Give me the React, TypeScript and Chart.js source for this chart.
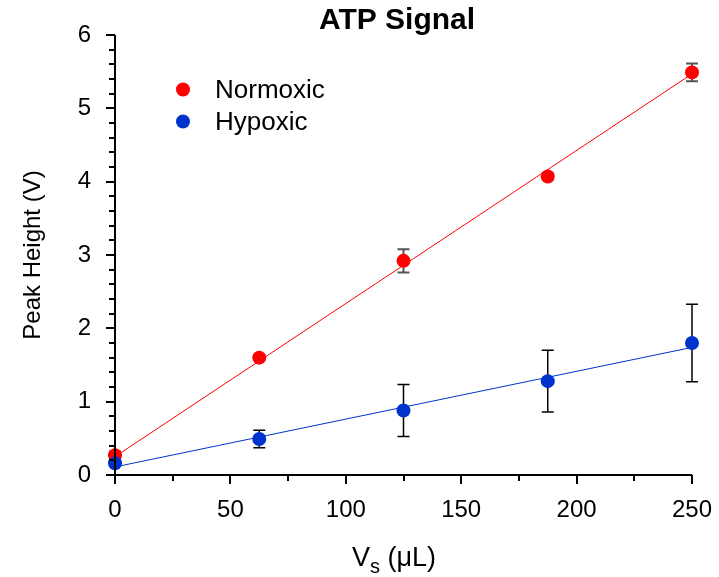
import React, { useEffect, useRef } from "react";
import { Chart, registerables } from "chart.js";

Chart.register(...registerables);

const xValues = [0, 62.5, 125, 187.5, 250];
const normoxic = [0.27, 1.6, 2.92, 4.07, 5.49];
const normoxicErr = [0.05, 0.03, 0.16, 0.04, 0.12];
const hypoxic = [0.16, 0.49, 0.88, 1.28, 1.8];
const hypoxicErr = [0.03, 0.12, 0.355, 0.42, 0.53];
const fitX = [0, 250];
const normoxicFit = [0.25, 5.47];
const hypoxicFit = [0.11, 1.74];
const seriesNames = ["Normoxic", "Hypoxic"];
const chartTitle = "ATP Signal";
const yTitle = "Peak Height (V)";

const FONT = "'Liberation Sans', Arial, sans-serif";
const RED = "#ff0000";
const BLUE = "#0033cc";

const errors = [
  { dataIndex: 0, err: normoxicErr, color: "#555555", width: 2 },
  { dataIndex: 1, err: hypoxicErr, color: "#000000", width: 1.5 },
];

const customPlugin = {
  id: "custom",
  beforeDatasetsDraw(chart: any) {
    const ctx = chart.ctx;
    const xs = chart.scales.x;
    const ys = chart.scales.y;
    ctx.save();
    errors.forEach((e) => {
      const ds = chart.data.datasets[e.dataIndex];
      ctx.strokeStyle = e.color;
      ctx.lineWidth = e.width;
      ds.data.forEach((p: any, i: number) => {
        const px = xs.getPixelForValue(p.x);
        const top = ys.getPixelForValue(p.y + e.err[i]);
        const bot = ys.getPixelForValue(p.y - e.err[i]);
        ctx.beginPath();
        ctx.moveTo(px, top);
        ctx.lineTo(px, bot);
        ctx.moveTo(px - 6, top);
        ctx.lineTo(px + 6, top);
        ctx.moveTo(px - 6, bot);
        ctx.lineTo(px + 6, bot);
        ctx.stroke();
      });
    });
    ctx.restore();
  },
  afterDraw(chart: any) {
    const ctx = chart.ctx;
    const xs = chart.scales.x;
    const ys = chart.scales.y;
    const area = chart.chartArea;
    ctx.save();
    // axes
    ctx.strokeStyle = "#000";
    ctx.lineWidth = 2;
    ctx.beginPath();
    ctx.moveTo(area.left, area.top);
    ctx.lineTo(area.left, area.bottom);
    ctx.lineTo(area.right, area.bottom);
    ctx.stroke();
    // y ticks
    for (let k = 0; k <= 30; k++) {
      const v = k * 0.2;
      const py = Math.round(ys.getPixelForValue(v));
      const len = k % 5 === 0 ? 9 : 6;
      ctx.beginPath();
      ctx.moveTo(area.left, py);
      ctx.lineTo(area.left - len, py);
      ctx.stroke();
    }
    // x ticks
    for (let k = 0; k <= 10; k++) {
      const v = k * 25;
      const px = Math.round(xs.getPixelForValue(v));
      const len = k % 2 === 0 ? 9 : 6;
      ctx.beginPath();
      ctx.moveTo(px, area.bottom);
      ctx.lineTo(px, area.bottom + len);
      ctx.stroke();
    }
    // title
    ctx.fillStyle = "#000";
    ctx.font = `bold 30px ${FONT}`;
    ctx.textAlign = "center";
    ctx.textBaseline = "middle";
    ctx.fillText(chartTitle, 397, 21);
    // y title
    ctx.save();
    ctx.translate(33, 255);
    ctx.rotate(-Math.PI / 2);
    ctx.font = `24px ${FONT}`;
    ctx.fillText(yTitle, 0, 0);
    ctx.restore();
    // x title with subscript
    ctx.textAlign = "left";
    ctx.textBaseline = "alphabetic";
    const big = `27px ${FONT}`;
    const small = `20px ${FONT}`;
    const parts = [
      { t: "V", f: big, dy: 0 },
      { t: "s", f: small, dy: 7 },
      { t: " (\u03bcL)", f: big, dy: 0 },
    ];
    let total = 0;
    parts.forEach((p) => {
      ctx.font = p.f;
      total += ctx.measureText(p.t).width;
    });
    let cx = 394 - total / 2;
    parts.forEach((p) => {
      ctx.font = p.f;
      ctx.fillText(p.t, cx, 566 + p.dy);
      cx += ctx.measureText(p.t).width;
    });
    // legend
    const legend = [
      { name: seriesNames[0], color: RED, y: 89.5 },
      { name: seriesNames[1], color: BLUE, y: 121.5 },
    ];
    ctx.font = `26px ${FONT}`;
    ctx.textBaseline = "middle";
    legend.forEach((l) => {
      ctx.fillStyle = l.color;
      ctx.beginPath();
      ctx.arc(183, l.y, 7, 0, Math.PI * 2);
      ctx.fill();
      ctx.fillStyle = "#000";
      ctx.fillText(l.name, 215, l.y + 1);
    });
    ctx.restore();
  },
};

export default function App() {
  const ref = useRef<HTMLCanvasElement>(null);
  useEffect(() => {
    document.body.style.margin = "0";
    const canvas = ref.current;
    if (!canvas) return;
    const chart = new Chart(canvas, {
      type: "scatter",
      data: {
        datasets: [
          {
            label: seriesNames[0],
            data: xValues.map((x, i) => ({ x, y: normoxic[i] })),
            backgroundColor: RED,
            borderColor: RED,
            pointRadius: 7,
            pointBorderWidth: 0,
            showLine: false,
            clip: false,
            order: 1,
          } as any,
          {
            label: seriesNames[1],
            data: xValues.map((x, i) => ({ x, y: hypoxic[i] })),
            backgroundColor: BLUE,
            borderColor: BLUE,
            pointRadius: 7,
            pointBorderWidth: 0,
            showLine: false,
            clip: false,
            order: 0,
          } as any,
          {
            label: "Normoxic fit",
            data: fitX.map((x, i) => ({ x, y: normoxicFit[i] })),
            borderColor: RED,
            borderWidth: 1,
            pointRadius: 0,
            showLine: true,
            clip: false,
            order: 3,
          } as any,
          {
            label: "Hypoxic fit",
            data: fitX.map((x, i) => ({ x, y: hypoxicFit[i] })),
            borderColor: BLUE,
            borderWidth: 1,
            pointRadius: 0,
            showLine: true,
            clip: false,
            order: 2,
          } as any,
        ],
      },
      options: {
        responsive: false,
        animation: false,
        layout: { padding: { top: 35, right: 27, left: 0, bottom: 0 } },
        plugins: {
          legend: { display: false },
          title: { display: false },
          tooltip: { enabled: false },
        },
        scales: {
          x: {
            type: "linear",
            min: 0,
            max: 250,
            grid: { display: false, drawTicks: false },
            border: { display: false },
            ticks: {
              stepSize: 50,
              color: "#000",
              padding: 21,
              font: { family: FONT, size: 24 },
              maxRotation: 0,
            },
            afterFit: (s: any) => {
              s.height = 102;
              s.paddingLeft = 0;
              s.paddingRight = 0;
            },
          },
          y: {
            type: "linear",
            min: 0,
            max: 6,
            grid: { display: false, drawTicks: false },
            border: { display: false },
            ticks: {
              stepSize: 1,
              color: "#000",
              padding: 24,
              font: { family: FONT, size: 24 },
            },
            afterFit: (s: any) => {
              s.width = 115;
              s.paddingTop = 0;
              s.paddingBottom = 0;
            },
          },
        },
      },
      plugins: [customPlugin],
    });
    return () => chart.destroy();
  }, []);
  return (
    <div style={{ width: 719, height: 577 }}>
      <canvas ref={ref} width={719} height={577} />
    </div>
  );
}
